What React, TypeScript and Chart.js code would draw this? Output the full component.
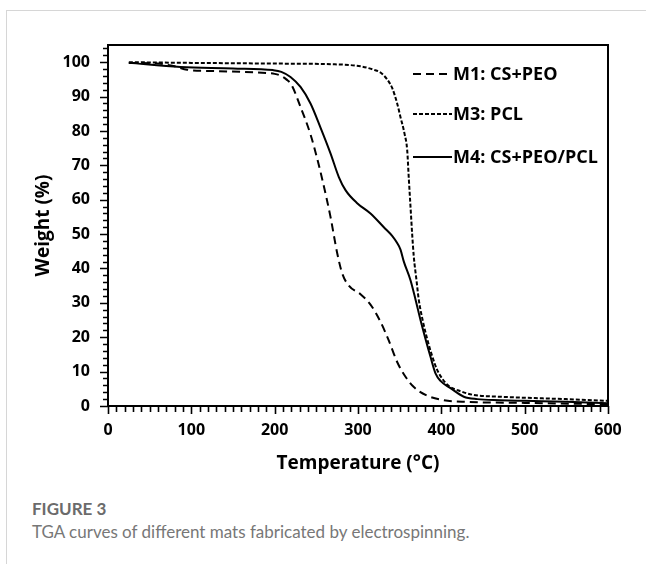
import React, { useEffect, useRef } from "react";
import { Chart, registerables } from "chart.js";

Chart.register(...registerables);

const seriesLabels = ["M1: CS+PEO", "M3: PCL", "M4: CS+PEO/PCL"];

const m1Temp = [25, 60, 80, 95, 130, 180, 200, 208, 214, 220, 231, 243, 251, 258, 267, 275, 281, 289, 303, 315, 327, 337, 347, 357, 367, 383, 403, 430, 500, 600];
const m1Weight = [99.8, 99.6, 98.8, 97.8, 97.4, 97.0, 96.6, 96.0, 95.0, 93.5, 87, 79, 72, 65, 55, 44.5, 38.6, 35, 32.5, 29.5, 24.5, 19, 12.8, 8.5, 5.5, 3, 1.7, 1.2, 0.9, 0.5];

const m3Temp = [25, 100, 200, 270, 303, 319, 327, 335, 341, 347, 351, 356, 359, 361, 363, 365, 367, 370, 373, 378, 383, 389, 395, 401, 409, 423, 439, 470, 500, 550, 600];
const m3Weight = [100, 99.8, 99.6, 99.4, 98.8, 97.8, 97, 95, 92.5, 88, 84, 79, 74.5, 66, 58, 50, 43.3, 37, 30.8, 24.5, 19.5, 14.5, 10.5, 8, 5.8, 4.3, 3.2, 2.7, 2.4, 2, 1.5];

const m4Temp = [25, 87, 150, 198, 208, 219, 231, 243, 255, 267, 277, 285, 299, 315, 331, 341, 347, 351, 355, 363, 369, 375, 381, 387, 393, 399, 411, 427, 443, 470, 500, 550, 600];
const m4Weight = [99.8, 98.6, 98.2, 97.7, 97.2, 95.7, 92.8, 88, 81, 73.5, 66.6, 62.8, 59, 56, 52, 49.5, 47.4, 45.5, 42, 36.6, 31, 25, 19.5, 14.3, 9.5, 7.3, 5.2, 2.7, 2, 1.7, 1.5, 1.2, 0.8];

const seriesDashes = [[8, 5], [4, 2], []];

const xTickValues = [0, 100, 200, 300, 400, 500, 600];
const yTickValues = [0, 10, 20, 30, 40, 50, 60, 70, 80, 90, 100];

const toPoints = (t: number[], w: number[]) => t.map((v, i) => ({ x: v, y: w[i] }));

const boxPlugin = {
  id: "boxAndTicks",
  afterDraw(chart: any) {
    const { ctx, chartArea: a, scales } = chart;
    const x = scales.x;
    const y = scales.y;
    ctx.save();
    ctx.strokeStyle = "#000";
    ctx.lineWidth = 2;
    ctx.strokeRect(a.left, a.top, a.right - a.left, a.bottom - a.top);
    ctx.lineWidth = 1.6;
    ctx.beginPath();
    for (let v = 0; v <= 600; v += 10) {
      const px = Math.round(x.getPixelForValue(v)) + 0.5;
      const len = v % 100 === 0 ? 8 : 6;
      ctx.moveTo(px, a.bottom);
      ctx.lineTo(px, a.bottom + len);
    }
    for (let v = 0; v <= 104; v += 2) {
      const py = Math.round(y.getPixelForValue(v)) + 0.5;
      const len = v % 10 === 0 ? 8 : 5;
      ctx.moveTo(a.left, py);
      ctx.lineTo(a.left - len, py);
    }
    ctx.stroke();

    // legend
    const rows = [74, 114, 157];
    const x0 = a.left + 305;
    const x1 = a.left + 344;
    ctx.font = "bold 18px 'Open Sans'";
    ctx.fillStyle = "#000";
    ctx.textBaseline = "middle";
    chart.data.datasets.forEach((ds: any, i: number) => {
      ctx.beginPath();
      ctx.lineWidth = 2;
      ctx.setLineDash(ds.borderDash || []);
      ctx.moveTo(x0, rows[i]);
      ctx.lineTo(x1, rows[i]);
      ctx.stroke();
      ctx.setLineDash([]);
      ctx.fillText(ds.label, x1 + 1, rows[i] + 1);
    });
    ctx.restore();
  },
};

export default function App() {
  const ref = useRef<HTMLCanvasElement | null>(null);
  useEffect(() => {
    if (!ref.current) return;
    const tickFont = { family: "'Open Sans'", size: 16, weight: "bold" as const };
    const titleFont = { family: "'Open Sans'", size: 19, weight: "bold" as const };
    const chart = new Chart(ref.current, {
      type: "scatter",
      data: {
        datasets: [
          { label: seriesLabels[0], data: toPoints(m1Temp, m1Weight), borderDash: seriesDashes[0] },
          { label: seriesLabels[1], data: toPoints(m3Temp, m3Weight), borderDash: seriesDashes[1] },
          { label: seriesLabels[2], data: toPoints(m4Temp, m4Weight), borderDash: seriesDashes[2] },
        ].map((d) => ({
          ...d,
          showLine: true,
          borderColor: "#000",
          backgroundColor: "#000",
          borderWidth: 2,
          pointRadius: 0,
          cubicInterpolationMode: "monotone" as const,
          fill: false,
        })),
      },
      options: {
        animation: false,
        responsive: false,
        maintainAspectRatio: false,
        layout: { padding: { left: 0, top: 45, right: 38, bottom: 0 } },
        plugins: { legend: { display: false }, tooltip: { enabled: false } },
        scales: {
          x: {
            type: "linear",
            min: 0,
            max: 600,
            grid: { display: false, drawTicks: false },
            border: { display: false },
            afterBuildTicks: (s: any) => {
              s.ticks = xTickValues.map((v) => ({ value: v }));
            },
            afterFit: (s: any) => {
              s.height = 79;
            },
            ticks: { font: tickFont, color: "#000", padding: 15, maxRotation: 0 },
            title: {
              display: true,
              text: "Temperature (°C)",
              font: titleFont,
              color: "#000",
              padding: { top: 0, bottom: 10 },
            },
          },
          y: {
            type: "linear",
            min: 0,
            max: 105,
            grid: { display: false, drawTicks: false },
            border: { display: false },
            afterBuildTicks: (s: any) => {
              s.ticks = yTickValues.map((v) => ({ value: v }));
            },
            afterFit: (s: any) => {
              s.width = 108;
            },
            ticks: { font: tickFont, color: "#000", padding: 18 },
            title: {
              display: true,
              text: "Weight (%)",
              font: titleFont,
              color: "#000",
              padding: { top: 32, bottom: 0 },
            },
          },
        },
      },
      plugins: [boxPlugin],
    });
    return () => chart.destroy();
  }, []);

  return (
    <div style={{ position: "absolute", left: 0, top: 0, width: 646, height: 564, overflow: "hidden", background: "#fff" }}>
      <div
        style={{
          position: "absolute",
          left: 6,
          top: 10,
          right: -10,
          bottom: -10,
          borderTop: "1px solid #d6d6d6",
          borderLeft: "1px solid #d6d6d6",
        }}
      />
      <canvas ref={ref} width={646} height={485} style={{ position: "absolute", left: 0, top: 0, width: 646, height: 485 }} />
      <div
        style={{
          position: "absolute",
          left: 32,
          top: 498,
          fontFamily: "Lato, 'Open Sans', sans-serif",
          fontWeight: 700,
          fontSize: 17,
          color: "#6b6b6b",
          lineHeight: "22px",
        }}
      >
        FIGURE 3
      </div>
      <div
        style={{
          position: "absolute",
          left: 32,
          top: 521,
          fontFamily: "Lato, 'Open Sans', sans-serif",
          fontSize: 17,
          color: "#777",
          lineHeight: "22px",
          whiteSpace: "nowrap",
        }}
      >
        TGA curves of different mats fabricated by electrospinning.
      </div>
    </div>
  );
}
